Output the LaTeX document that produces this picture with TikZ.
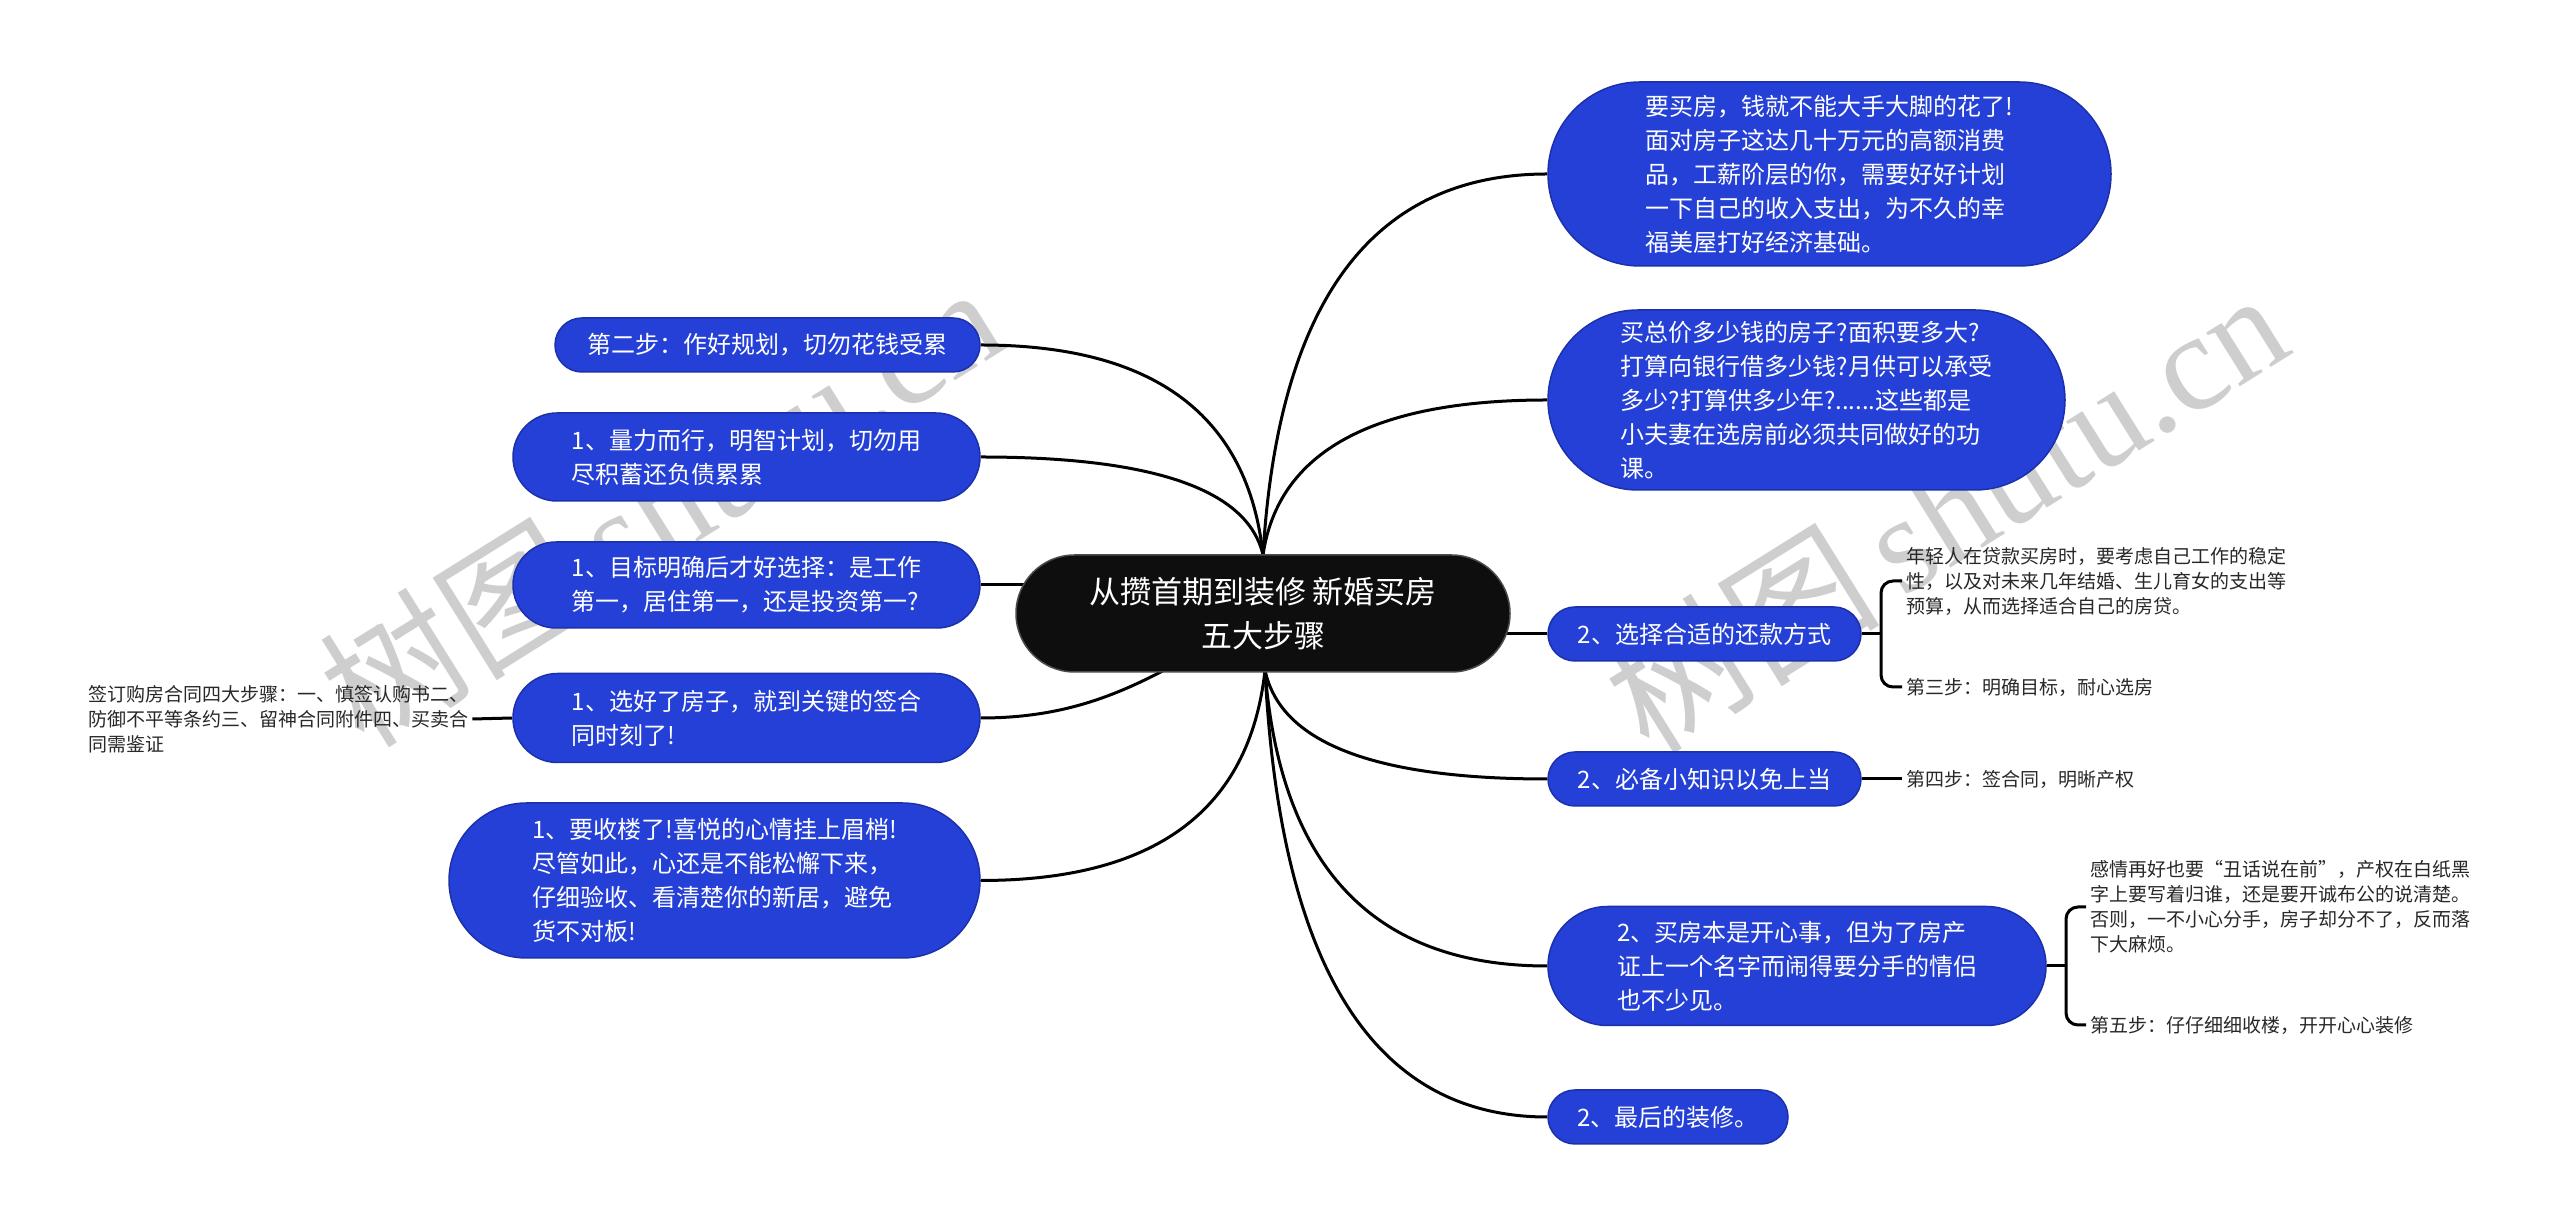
\documentclass[tikz,border=0pt]{standalone}
\usepackage{fontspec}
\setmainfont{Noto Sans CJK SC}
\newfontfamily\wmfont{Liberation Serif}
\usetikzlibrary{calc}
\definecolor{nodeblue}{RGB}{37,64,214}
\definecolor{nodeedge}{RGB}{28,48,170}
\definecolor{rootblack}{RGB}{14,14,14}
\definecolor{leaftext}{RGB}{40,40,40}
\definecolor{wmgray}{RGB}{206,206,206}
\pgfdeclarelayer{bg}
\pgfdeclarelayer{edges}
\pgfsetlayers{bg,edges,main}
\begin{document}
\begin{tikzpicture}[x=1pt,y=1pt,
  bluebox/.style={rectangle, fill=nodeblue, draw=nodeedge, line width=1.5pt, text=white,
    align=left, inner sep=0pt, font=\fontsize{24}{34}\selectfont},
  bb/.style n args={2}{minimum width=#1, minimum height=#2, rounded corners=#2/2},
  rootbox/.style={rectangle, fill=rootblack, draw=black!70, line width=1.5pt, text=white,
    align=center, inner sep=0pt, font=\fontsize{31}{44}\selectfont},
  leaf/.style={align=left, inner sep=4pt, anchor=west, text=leaftext,
    font=\fontsize{19}{25}\selectfont},
  conn/.style={line width=3pt, draw=black},
  wm/.style={text=wmgray, inner sep=0pt, font=\fontsize{138}{138}\selectfont},
  qcurve/.style={to path={let \p1=(\tikztostart), \p2=(\tikztotarget),
    \p3=({\x1+0.08*(\x2-\x1)},\y2) in
    .. controls ($(\p1)!0.667!(\p3)$) and ($(\p2)!0.667!(\p3)$) .. (\p2) \tikztonodes}}
]
\begin{pgfonlayer}{bg}
\fill[white] (0,0) rectangle (2560,1226);
\node[wm, rotate=32] (wm1) at (660,722) {树图\,{\wmfont shutu.cn}};
\node[wm, rotate=32] (wm2) at (1945,716) {树图\,{\wmfont shutu.cn}};
\end{pgfonlayer}
\useasboundingbox (0,0) rectangle (2560,1226);

% root
\node[rootbox, minimum width=494, minimum height=117, rounded corners=58.5] (root) at (1263,612.5)
  {从攒首期到装修 新婚买房\\五大步骤};
\coordinate (top) at (1263,671);
\coordinate (bot) at (1265,556);

% right branches
\node[bluebox, bb={563}{184}] (A) at (1829.5,1052)
  {要买房，钱就不能大手大脚的花了!\\面对房子这达几十万元的高额消费\\品，工薪阶层的你，需要好好计划\\一下自己的收入支出，为不久的幸\\福美屋打好经济基础。};
\node[bluebox, bb={517}{180}] (B) at (1806.5,826)
  {买总价多少钱的房子?面积要多大?\\打算向银行借多少钱?月供可以承受\\多少?打算供多少年?......这些都是\\小夫妻在选房前必须共同做好的功\\课。};
\node[bluebox, bb={313}{54}] (C) at (1704.5,592) {2、选择合适的还款方式};
\node[bluebox, bb={313}{54}] (D) at (1704.5,447) {2、必备小知识以免上当};
\node[bluebox, bb={498}{119}] (E) at (1797,260)
  {2、买房本是开心事，但为了房产\\证上一个名字而闹得要分手的情侣\\也不少见。};
\node[bluebox, bb={240}{54}] (F) at (1668,109) {2、最后的装修。};

% left branches
\node[bluebox, bb={425}{54}] (L1) at (767.5,881) {第二步：作好规划，切勿花钱受累};
\node[bluebox, bb={467}{88}] (L2) at (746.5,769) {1、量力而行，明智计划，切勿用\\尽积蓄还负债累累};
\node[bluebox, bb={467}{86}] (L3) at (746.5,641) {1、目标明确后才好选择：是工作\\第一，居住第一，还是投资第一?};
\node[bluebox, bb={467}{89}] (L4) at (746.5,508) {1、选好了房子，就到关键的签合\\同时刻了!};
\node[bluebox, bb={531}{155}] (L5) at (714.5,345.5)
  {1、要收楼了!喜悦的心情挂上眉梢!\\尽管如此，心还是不能松懈下来，\\仔细验收、看清楚你的新居，避免\\货不对板!};

% leaves
\coordinate (cbC) at (1881,592);
\node[leaf] (C1) at (1902,645) {年轻人在贷款买房时，要考虑自己工作的稳定\\性，以及对未来几年结婚、生儿育女的支出等\\预算，从而选择适合自己的房贷。};
\node[leaf] (C2) at (1902,539) {第三步：明确目标，耐心选房};
\node[leaf] (D1) at (1902,447) {第四步：签合同，明晰产权};
\coordinate (cbE) at (2066,260);
\node[leaf] (E1) at (2086,319) {感情再好也要“丑话说在前”，产权在白纸黑\\字上要写着归谁，还是要开诚布公的说清楚。\\否则，一不小心分手，房子却分不了，反而落\\下大麻烦。};
\node[leaf] (E2) at (2086,201) {第五步：仔仔细细收楼，开开心心装修};
\node[leaf] (LL) at (84,507) {签订购房合同四大步骤：一、慎签认购书二、\\防御不平等条约三、留神合同附件四、买卖合\\同需鉴证};

\begin{pgfonlayer}{edges}
\draw[conn] (top) to[qcurve] (A.west);
\draw[conn] (top) to[qcurve] (B.west);
\draw[conn] (root.center |- C.west) -- (C.west);
\draw[conn] (bot) to[qcurve] (D.west);
\draw[conn] (bot) to[qcurve] (E.west);
\draw[conn] (bot) to[qcurve] (F.west);
\draw[conn] (top) to[qcurve] (L1.east);
\draw[conn] (top) to[qcurve] (L2.east);
\draw[conn] (L3.east) -- (L3.east -| root.center);
\draw[conn] (L4.east) to[out=0,in=210] (root.center);
\draw[conn] (bot) to[qcurve] (L5.east);
\draw[conn] (L4.west) -- (LL.east);
\draw[conn] (C.east) -- (cbC);
\draw[conn, rounded corners=12] (cbC) |- (C1.west);
\draw[conn, rounded corners=12] (cbC) |- (C2.west);
\draw[conn] (D.east) -- (D1.west);
\draw[conn] (E.east) -- (cbE);
\draw[conn, rounded corners=12] (cbE) |- (E1.west);
\draw[conn, rounded corners=12] (cbE) |- (E2.west);
\end{pgfonlayer}
\end{tikzpicture}
\end{document}
